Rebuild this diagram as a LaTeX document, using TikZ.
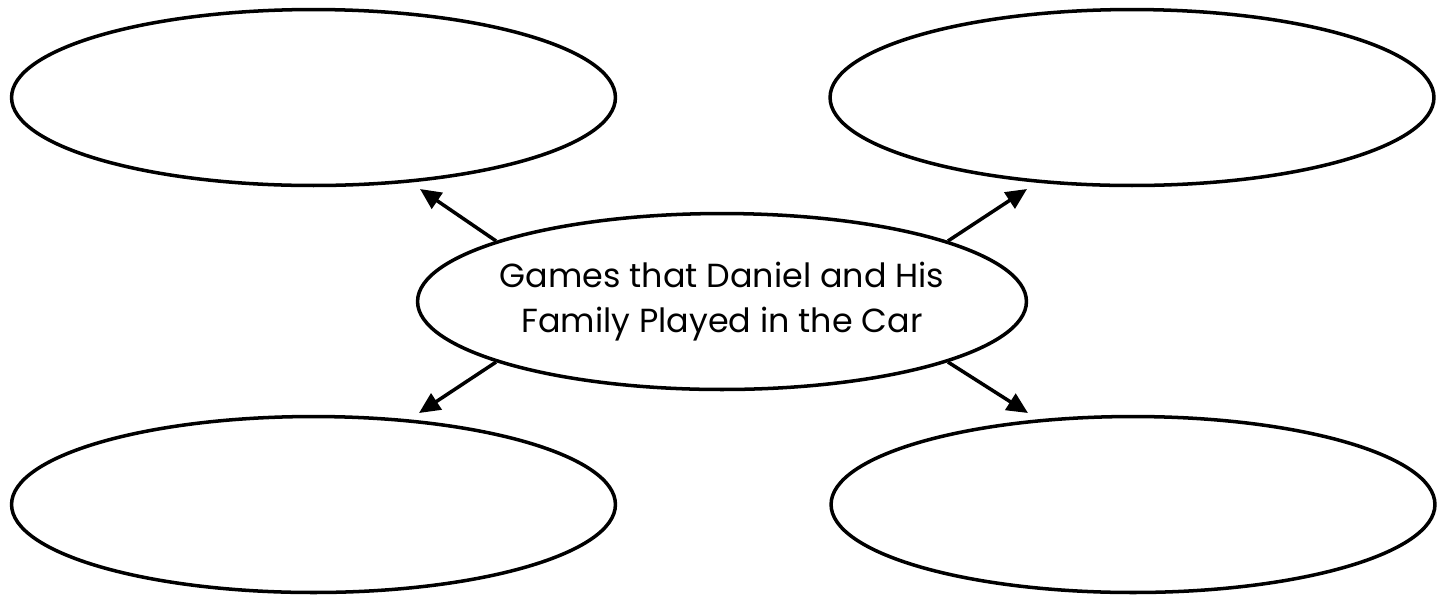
\documentclass[tikz,border=0pt]{standalone}
\usepackage{fontspec}
\setmainfont{Poppins}
\usetikzlibrary{shapes.geometric,arrows.meta}

\begin{document}
\begin{tikzpicture}
[
    x=0.02cm, y=-0.02cm,
    bubble/.style={draw, ellipse, line width=2pt, minimum width=12.08cm, minimum height=3.52cm, inner sep=0pt},
    topic/.style={bubble, minimum width=12.18cm, inner xsep=-5pt, align=center, font=\fontsize{19}{26}\selectfont},
    spoke/.style={line width=2pt, -{Triangle[length=0.42cm, width=0.38cm]}},
]
\useasboundingbox (0,0) rectangle (1450,600);
% answer bubbles
\node [bubble] (upleft) at (313.5,97.5) {};
\node [bubble] (upright) at (1132,97.5) {};
\node [bubble] (downleft) at (313.5,504.5) {};
\node [bubble] (downright) at (1133,504.5) {};
% main idea
\node [topic] (games) at (722,301.5)
{Games that Daniel and His\\Family Played in the Car};
% arrow ends
\coordinate (tipupleft) at (420,189);
\coordinate (tipupright) at (1027,189);
\coordinate (tipdownleft) at (419,413);
\coordinate (tipdownright) at (1028,413);
\draw [spoke] (games.165) -- (tipupleft);
\draw [spoke] (games.15) -- (tipupright);
\draw [spoke] (games.195) -- (tipdownleft);
\draw [spoke] (games.-15) -- (tipdownright);
\end{tikzpicture}
\end{document}
